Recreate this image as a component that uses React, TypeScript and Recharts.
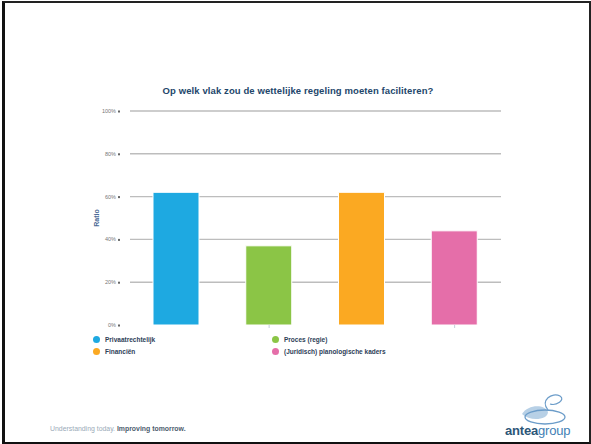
import { Bar, BarChart, CartesianGrid, Cell, XAxis, YAxis } from 'recharts'

const categories = ['Privaatrechtelijk', 'Proces (regie)', 'Financiën', '(Juridisch) planologische kaders']
const ratios = [62, 37, 62, 44]
const colors = ['#1ea9e1', '#8bc546', '#fba922', '#e56ea9']
const yTicks = [0, 20, 40, 60, 80, 100]
const gridValues = [20, 40, 60, 80, 100]

const data = categories.map((name, i) => ({ name, ratio: ratios[i] }))

const YTick = (props: any) => {
	const { x, y, payload } = props
	return (
		<g>
			<text x={x - 6} y={y} dy={2} textAnchor='end' fontSize={5.5} fill='#777' fontFamily='Liberation Sans'>
				{payload.value}%
			</text>
			<rect x={x - 4} y={y - 0.5} width={2} height={2} fill='#666' />
		</g>
	)
}

const LegendBlock = () => (
	<div style={{ position: 'absolute', left: 93, top: 336, width: 330, fontFamily: 'Liberation Sans', fontSize: 6.5, fontWeight: 700, color: '#2d4058' }}>
		{categories.map((c, i) => (
			<div
				key={c}
				style={{
					position: 'absolute',
					left: (i % 2) * 179,
					top: Math.floor(i / 2) * 11.5,
					display: 'flex',
					alignItems: 'center',
					whiteSpace: 'nowrap',
				}}
			>
				<span style={{ width: 7, height: 7, borderRadius: '50%', background: colors[i], marginRight: 5, display: 'inline-block' }} />
				{c}
			</div>
		))}
	</div>
)

const App = () => {
	return (
		<div style={{ position: 'absolute', left: 0, top: 0, width: 591, height: 444, background: '#fff', overflow: 'hidden' }}>
			<div
				style={{
					position: 'absolute',
					left: 2,
					top: 1,
					width: 589,
					height: 443,
					boxSizing: 'border-box',
					borderLeft: '3px solid #111',
					borderTop: '2px solid #222',
					borderRight: '2px solid #222',
					borderBottom: '2px solid #111',
				}}
			/>
			<div
				style={{
					position: 'absolute',
					left: 0,
					width: 596,
					top: 85,
					textAlign: 'center',
					fontFamily: 'Liberation Sans',
					fontWeight: 700,
					fontSize: 9.5,
					letterSpacing: 0.1,
					color: '#23466b',
				}}
			>
				Op welk vlak zou de wettelijke regeling moeten faciliteren?
			</div>
			<div style={{ position: 'absolute', left: 0, top: 0 }}>
				<BarChart width={591} height={444} data={data} margin={{ top: 111, right: 90, left: 90, bottom: 114 }}>
					<CartesianGrid vertical={false} stroke='#bdbdbd' strokeWidth={1.4} horizontalValues={gridValues} />
					<XAxis dataKey='name' height={5} axisLine={false} tickSize={3} tickLine={{ stroke: '#c5cfdc' }} tick={() => <g />} />
					<YAxis
						width={40}
						domain={[0, 100]}
						ticks={yTicks}
						axisLine={false}
						tickLine={false}
						tick={<YTick />}
						label={{
							value: 'Ratio',
							angle: -90,
							position: 'insideLeft',
							offset: 7,
							style: { fontSize: 7, fontWeight: 700, fill: '#4a6a95', fontFamily: 'Liberation Sans', textAnchor: 'middle' },
						}}
					/>
					<Bar dataKey='ratio' barSize={46} stroke='#ffffff' strokeWidth={1} isAnimationActive={false}>
						{data.map((d, i) => (
							<Cell key={d.name} fill={colors[i]} />
						))}
					</Bar>
				</BarChart>
			</div>
			<LegendBlock />
			<div style={{ position: 'absolute', left: 50, top: 425, fontFamily: 'Liberation Sans', fontSize: 6.9, color: '#9aaab8', whiteSpace: 'nowrap' }}>
				Understanding today. <span style={{ color: '#4d5d6e', fontWeight: 700 }}>Improving tomorrow.</span>
			</div>
			<svg style={{ position: 'absolute', left: 0, top: 0 }} width={591} height={444}>
				<path d='M522 414 C 528 404, 545 404, 548 412 C 548 420, 530 422, 522 414 Z' fill='#b7d0e6' />
				<ellipse cx={545} cy={417} rx={20} ry={7} fill='none' stroke='#6b9cc9' strokeWidth={1.3} />
				<path d='M548 410 C 540 400, 552 392, 560 396 C 566 400, 556 406, 550 404' fill='none' stroke='#6b9cc9' strokeWidth={1.2} />
			</svg>
			<div style={{ position: 'absolute', left: 505, top: 423, fontFamily: 'Liberation Sans', fontSize: 13, whiteSpace: 'nowrap', letterSpacing: -0.2 }}>
				<span style={{ color: '#2c5677', fontWeight: 700 }}>antea</span>
				<span style={{ color: '#3f7fb5' }}>group</span>
			</div>
		</div>
	)
}

export default App
